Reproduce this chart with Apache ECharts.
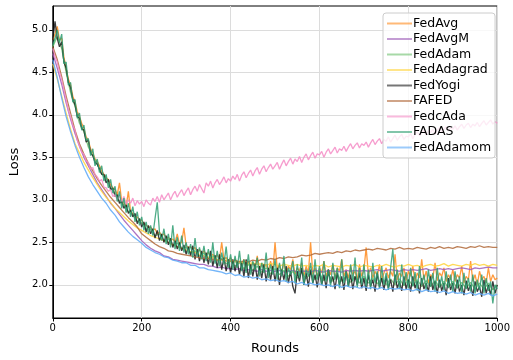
<!DOCTYPE html>
<html>
<head>
<meta charset="utf-8">
<script src="https://cdn.jsdelivr.net/npm/echarts@6/dist/echarts.min.js"></script>
<style>
  html, body { margin: 0; padding: 0; background: #fff; }
  #container { width: 513px; height: 360px; }
</style>
</head>
<body>
<div id="container"></div>
<script>
// loss values; noisy runs every 5 rounds, smooth runs every 10
var rounds5 = [];
for (var i = 0; i <= 200; i++) rounds5.push(i * 5);
var rounds10 = [];
for (var i = 0; i <= 100; i++) rounds10.push(i * 10);

var xTicks = [0, 200, 400, 600, 800, 1000];
var yTicks = [2.0, 2.5, 3.0, 3.5, 4.0, 4.5, 5.0];

var names = ['FedAvg', 'FedAvgM', 'FedAdam', 'FedAdagrad', 'FedYogi', 'FAFED', 'FedcAda', 'FADAS', 'FedAdamom'];

// step 5
var fedAvg = [4.88, 4.95, 5.04, 4.88, 4.9, 4.68, 4.55, 4.42, 4.35, 4.22, 4.15, 4.04, 3.98, 3.9, 3.84, 3.74, 3.7, 3.6, 3.55, 3.48,
    3.45, 3.4, 3.34, 3.3, 3.26, 3.24, 3.18, 3.14, 3.12, 3.06, 3.2, 2.98, 2.96, 2.92, 3.1, 2.86, 2.84, 2.8, 2.8, 2.76,
    2.76, 2.72, 2.7, 2.68, 2.68, 2.64, 2.66, 2.6, 2.62, 2.58, 2.6, 2.55, 2.56, 2.52, 2.54, 2.5, 2.6, 2.48, 2.5, 2.67,
    2.46, 2.44, 2.45, 2.42, 2.44, 2.38, 2.42, 2.36, 2.4, 2.35, 2.38, 2.33, 2.36, 2.32, 2.35, 2.3, 2.5, 2.3, 2.32, 2.28,
    2.32, 2.26, 2.3, 2.25, 2.28, 2.24, 2.3, 2.2, 2.27, 2.22, 2.26, 2.2, 2.34, 2.18, 2.25, 2.2, 2.24, 2.17, 2.28, 2.16,
    2.5, 2.18, 2.24, 2.15, 2.26, 2.14, 2.22, 2.18, 2.3, 2.12, 2.2, 2.16, 2.26, 2.1, 2.22, 2.14, 2.5, 2.12, 2.2, 2.1,
    2.2, 2.14, 2.28, 2.1, 2.18, 2.12, 2.24, 2.08, 2.2, 2.16, 2.3, 2.1, 2.18, 2.08, 2.22, 2.12, 2.16, 2.06, 2.24, 2.1,
    2.18, 2.44, 2.12, 2.2, 2.08, 2.16, 2.1, 2.24, 2.06, 2.14, 2.2, 2.08, 2.16, 2.1, 2.36, 2.06, 2.14, 2.1, 2.2, 2.05,
    2.16, 2.1, 2.22, 2.04, 2.14, 2.08, 2.3, 2.06, 2.16, 2.02, 2.12, 2.08, 2.26, 2.05, 2.14, 2.1, 2.2, 2.04, 2.12, 2.06,
    2.18, 2.04, 2.12, 2.08, 2.22, 2.02, 2.1, 2.06, 2.28, 2.04, 2.12, 2.0, 2.16, 2.06, 2.1, 2.02, 2.2, 2.04, 2.12, 2.06,
    2.08];

// step 10
var fedAvgM = [4.72, 4.55, 4.36, 4.14, 3.95, 3.78, 3.63, 3.5, 3.4, 3.3,
    3.2, 3.12, 3.04, 2.96, 2.9, 2.83, 2.76, 2.7, 2.64, 2.58,
    2.52, 2.47, 2.43, 2.4, 2.38, 2.34, 2.33, 2.3, 2.29, 2.28,
    2.27, 2.26, 2.25, 2.24, 2.24, 2.22, 2.22, 2.2, 2.21, 2.19,
    2.19, 2.18, 2.19, 2.17, 2.18, 2.17, 2.16, 2.18, 2.16, 2.17,
    2.16, 2.17, 2.15, 2.16, 2.17, 2.15, 2.16, 2.16, 2.15, 2.17,
    2.16, 2.15, 2.17, 2.16, 2.16, 2.15, 2.17, 2.16, 2.17, 2.16,
    2.17, 2.16, 2.17, 2.18, 2.16, 2.17, 2.18, 2.17, 2.16, 2.18,
    2.17, 2.18, 2.17, 2.18, 2.19, 2.17, 2.18, 2.19, 2.18, 2.19,
    2.18, 2.19, 2.2, 2.19, 2.18, 2.2, 2.19, 2.2, 2.21, 2.2,
    2.2];

// step 10
var fedAdam = [4.8, 4.92, 4.78, 4.5, 4.26, 4.1, 3.9, 3.8, 3.62, 3.52,
    3.42, 3.3, 3.25, 3.14, 3.08, 2.98, 2.94, 2.86, 2.83, 2.75,
    2.73, 2.66, 2.65, 2.58, 2.6, 2.52, 2.54, 2.47, 2.49, 2.43,
    2.44, 2.38, 2.4, 2.34, 2.37, 2.31, 2.34, 2.28, 2.31, 2.25,
    2.28, 2.22, 2.26, 2.19, 2.24, 2.17, 2.22, 2.15, 2.2, 2.13,
    2.19, 2.12, 2.17, 2.1, 2.16, 2.08, 2.15, 2.07, 2.14, 2.06,
    2.13, 2.05, 2.12, 2.04, 2.12, 2.04, 2.1, 2.03, 2.1, 2.02,
    2.1, 2.02, 2.08, 2.01, 2.08, 2.0, 2.07, 2.0, 2.07, 1.99,
    2.06, 1.99, 2.06, 1.98, 2.05, 1.98, 2.05, 1.97, 2.04, 1.97,
    2.04, 1.96, 2.03, 1.96, 2.03, 1.95, 2.02, 1.95, 2.02, 1.94,
    2.0];

// step 10
var fedAdagrad = [4.6, 4.42, 4.22, 4.02, 3.83, 3.66, 3.55, 3.44, 3.35, 3.26,
    3.18, 3.1, 3.03, 2.97, 2.9, 2.85, 2.8, 2.75, 2.71, 2.67,
    2.64, 2.61, 2.58, 2.56, 2.54, 2.52, 2.5, 2.47, 2.45, 2.43,
    2.41, 2.39, 2.38, 2.36, 2.34, 2.33, 2.32, 2.3, 2.29, 2.29,
    2.28, 2.27, 2.27, 2.26, 2.25, 2.26, 2.24, 2.25, 2.23, 2.25,
    2.24, 2.22, 2.24, 2.23, 2.22, 2.24, 2.22, 2.23, 2.21, 2.23,
    2.22, 2.24, 2.21, 2.23, 2.22, 2.21, 2.23, 2.22, 2.24, 2.21,
    2.23, 2.22, 2.21, 2.23, 2.22, 2.24, 2.22, 2.21, 2.23, 2.22,
    2.24, 2.22, 2.23, 2.21, 2.23, 2.24, 2.22, 2.23, 2.25, 2.22,
    2.24, 2.23, 2.22, 2.24, 2.23, 2.25, 2.23, 2.24, 2.22, 2.24,
    2.23];

// step 5
var fedYogi = [4.88, 5.1, 4.9, 4.8, 4.86, 4.62, 4.55, 4.38, 4.32, 4.18, 4.12, 3.98, 3.96, 3.84, 3.82, 3.68, 3.7, 3.55, 3.52, 3.44,
    3.42, 3.36, 3.3, 3.3, 3.2, 3.24, 3.12, 3.14, 3.04, 3.06, 2.96, 2.98, 2.9, 2.94, 2.84, 2.88, 2.8, 2.84, 2.72, 2.78,
    2.68, 2.74, 2.62, 2.7, 2.6, 2.66, 2.55, 2.64, 2.52, 2.6, 2.5, 2.58, 2.47, 2.55, 2.44, 2.52, 2.42, 2.5, 2.4, 2.47,
    2.36, 2.45, 2.34, 2.46, 2.3, 2.42, 2.28, 2.4, 2.26, 2.38, 2.24, 2.4, 2.22, 2.35, 2.2, 2.36, 2.18, 2.32, 2.16, 2.3,
    2.14, 2.3, 2.16, 2.28, 2.12, 2.26, 2.1, 2.3, 2.08, 2.24, 2.1, 2.25, 2.06, 2.22, 2.08, 2.24, 2.04, 2.2, 2.06, 2.22,
    2.04, 2.2, 2.0, 2.18, 2.06, 2.22, 2.02, 2.16, 1.98, 1.9, 2.16, 2.04, 2.2, 2.0, 2.14, 1.98, 2.18, 2.02, 2.12, 1.97,
    2.16, 2.0, 2.12, 1.96, 2.18, 2.02, 2.1, 1.95, 2.14, 2.0, 2.1, 1.94, 2.16, 1.98, 2.12, 1.95, 2.1, 2.0, 2.14, 1.96,
    2.08, 1.93, 2.12, 1.98, 2.06, 1.92, 2.14, 1.97, 2.08, 1.94, 2.1, 1.96, 2.06, 1.92, 2.12, 1.96, 2.04, 1.93, 2.1, 1.95,
    2.06, 1.92, 2.1, 1.96, 2.04, 1.9, 2.08, 1.95, 2.02, 1.92, 2.1, 1.94, 2.04, 1.9, 2.06, 1.93, 2.02, 1.88, 2.08, 1.94,
    2.02, 1.9, 2.06, 1.92, 2.0, 1.88, 2.05, 1.93, 2.0, 1.87, 2.04, 1.92, 1.98, 1.86, 2.06, 1.9, 2.0, 1.88, 2.04, 1.9,
    2.0];

// step 10
var fafed = [4.8, 4.65, 4.45, 4.22, 4.02, 3.82, 3.66, 3.54, 3.43, 3.34,
    3.25, 3.17, 3.1, 3.03, 2.97, 2.91, 2.85, 2.79, 2.74, 2.68,
    2.6, 2.56, 2.52, 2.48, 2.45, 2.43, 2.4, 2.39, 2.37, 2.36,
    2.35, 2.34, 2.33, 2.32, 2.31, 2.31, 2.3, 2.29, 2.3, 2.28,
    2.28, 2.29, 2.27, 2.28, 2.27, 2.29, 2.28, 2.3, 2.29, 2.31,
    2.3, 2.32, 2.31, 2.33, 2.32, 2.33, 2.35, 2.34, 2.35, 2.37,
    2.36, 2.37, 2.38, 2.37, 2.39, 2.38, 2.4, 2.39, 2.41, 2.4,
    2.41, 2.42, 2.41, 2.43, 2.42, 2.41, 2.43, 2.42, 2.44, 2.42,
    2.43, 2.42, 2.44, 2.43, 2.42, 2.44, 2.43, 2.45, 2.43, 2.44,
    2.43, 2.45, 2.44, 2.43, 2.45, 2.44, 2.46, 2.44, 2.45, 2.44,
    2.44];

// step 5
var fedcAda = [4.78, 4.68, 4.62, 4.5, 4.42, 4.3, 4.18, 4.05, 3.98, 3.88, 3.82, 3.7, 3.64, 3.56, 3.54, 3.46, 3.44, 3.36, 3.38, 3.3,
    3.27, 3.22, 3.24, 3.15, 3.14, 3.1, 3.12, 3.04, 3.06, 3.0, 3.05, 2.98, 3.04, 2.95, 3.0, 2.96, 3.02, 2.93, 2.99, 2.95,
    2.98, 2.92, 3.0, 2.96, 2.94, 3.02, 2.98, 3.04, 2.97, 3.06, 3.0, 3.04, 3.08, 3.0, 3.06, 3.1, 3.03, 3.08, 3.12, 3.05,
    3.1, 3.14, 3.06, 3.12, 3.16, 3.1, 3.18, 3.13, 3.08, 3.2, 3.16, 3.22, 3.14, 3.2, 3.24, 3.18, 3.22, 3.27, 3.2, 3.25,
    3.22, 3.28, 3.24, 3.3, 3.22, 3.29, 3.33, 3.26, 3.31, 3.35, 3.28, 3.34, 3.38, 3.3, 3.36, 3.4, 3.33, 3.38, 3.42, 3.36,
    3.4, 3.44, 3.36, 3.42, 3.47, 3.4, 3.45, 3.49, 3.42, 3.48, 3.45, 3.51, 3.44, 3.5, 3.54, 3.47, 3.52, 3.56, 3.49, 3.54,
    3.53, 3.57, 3.5, 3.56, 3.6, 3.54, 3.58, 3.62, 3.55, 3.6, 3.58, 3.63, 3.57, 3.62, 3.66, 3.6, 3.64, 3.67, 3.61, 3.66,
    3.64, 3.68, 3.62, 3.67, 3.71, 3.65, 3.69, 3.72, 3.66, 3.71, 3.69, 3.74, 3.68, 3.72, 3.76, 3.7, 3.74, 3.77, 3.71, 3.75,
    3.74, 3.78, 3.72, 3.77, 3.8, 3.75, 3.79, 3.82, 3.76, 3.81, 3.79, 3.83, 3.77, 3.82, 3.85, 3.8, 3.83, 3.86, 3.81, 3.85,
    3.83, 3.87, 3.82, 3.86, 3.89, 3.84, 3.88, 3.9, 3.85, 3.89, 3.87, 3.91, 3.86, 3.9, 3.93, 3.88, 3.91, 3.94, 3.89, 3.92,
    3.9];

// step 5
var fadas = [4.82, 4.9, 5.0, 4.85, 4.95, 4.6, 4.62, 4.35, 4.38, 4.15, 4.18, 3.96, 4.02, 3.82, 3.88, 3.7, 3.72, 3.52, 3.6, 3.4,
    3.48, 3.32, 3.4, 3.22, 3.3, 3.14, 3.24, 3.08, 3.16, 2.98, 3.1, 2.9, 3.02, 2.85, 2.96, 2.8, 2.92, 2.74, 2.86, 2.7,
    2.8, 2.64, 2.74, 2.6, 2.7, 2.58, 2.78, 2.97, 2.62, 2.52, 2.66, 2.48, 2.6, 2.44, 2.7, 2.42, 2.56, 2.4, 2.58, 2.38,
    2.5, 2.36, 2.48, 2.32, 2.55, 2.33, 2.44, 2.3, 2.46, 2.28, 2.42, 2.26, 2.5, 2.25, 2.4, 2.22, 2.38, 2.24, 2.45, 2.2,
    2.36, 2.18, 2.34, 2.2, 2.4, 2.16, 2.3, 2.14, 2.36, 2.12, 2.28, 2.18, 2.32, 2.1, 2.26, 2.14, 2.38, 2.08, 2.24, 2.12,
    2.3, 2.06, 2.26, 2.1, 2.34, 2.04, 2.2, 2.12, 2.28, 2.02, 2.24, 2.08, 2.32, 2.0, 2.18, 2.1, 2.26, 2.02, 2.3, 2.06,
    2.22, 2.0, 2.28, 2.04, 2.18, 1.98, 2.26, 2.06, 2.2, 1.96, 2.3, 2.02, 2.16, 1.98, 2.24, 2.04, 2.32, 1.97, 2.2, 2.0,
    2.24, 1.98, 2.18, 1.95, 2.26, 2.02, 2.16, 1.96, 2.22, 2.0, 2.14, 1.94, 2.2, 2.42, 2.02, 2.18, 1.95, 2.24, 2.0, 2.15,
    1.96, 2.2, 1.98, 2.15, 1.93, 2.22, 2.0, 2.12, 1.94, 2.18, 1.98, 2.14, 1.92, 2.2, 1.97, 2.1, 1.94, 2.16, 1.96, 2.12,
    1.92, 2.16, 1.96, 2.1, 1.9, 2.14, 1.95, 2.08, 1.92, 2.12, 1.9, 2.06, 1.94, 2.12, 1.9, 2.08, 1.93, 2.04, 1.78, 2.0,
    1.95];

// step 10
var fedAdamom = [4.65, 4.44, 4.2, 3.98, 3.8, 3.64, 3.5, 3.38, 3.27, 3.18,
    3.1, 3.02, 2.96, 2.88, 2.82, 2.74, 2.68, 2.62, 2.57, 2.53,
    2.49, 2.44, 2.41, 2.38, 2.36, 2.33, 2.32, 2.29, 2.28, 2.26,
    2.26, 2.23, 2.23, 2.2, 2.2, 2.18, 2.17, 2.16, 2.15, 2.13,
    2.14, 2.11, 2.12, 2.09, 2.1, 2.08, 2.09, 2.06, 2.07, 2.05,
    2.06, 2.04, 2.05, 2.03, 2.04, 2.01, 2.03, 2.0, 2.02, 2.0,
    2.01, 1.99, 2.0, 1.98, 2.0, 1.97, 1.99, 1.97, 1.98, 1.96,
    1.98, 1.96, 1.97, 1.95, 1.97, 1.94, 1.96, 1.95, 1.96, 1.94,
    1.95, 1.93, 1.95, 1.92, 1.94, 1.92, 1.93, 1.91, 1.93, 1.9,
    1.92, 1.9, 1.91, 1.89, 1.91, 1.88, 1.9, 1.88, 1.9, 1.87,
    1.89];

var values = [fedAvg, fedAvgM, fedAdam, fedAdagrad, fedYogi, fafed, fedcAda, fadas, fedAdamom];
var colors = ['#ff8a1c', '#9d5cb8', '#6cc06c', '#ffd43a', '#1a1a1a', '#b06838', '#f58cc6', '#2f9e72', '#5aa8f8'];

var dom = document.getElementById("container");
var myChart = echarts.init(dom, null, { renderer: 'canvas' });

var font = 'DejaVu Sans';

var series = names.map(function (n, k) {
    var vals = values[k];
    var xs = vals.length > 101 ? rounds5 : rounds10;
    return {
        name: n,
        type: 'line',
        symbol: 'none',
        data: xs.map(function (r, i) { return [r, vals[i]]; }),
        lineStyle: { width: 1.3, color: colors[k], opacity: 0.85 },
        itemStyle: { color: colors[k] },
        emphasis: { disabled: true }
    };
});

option = {
    animation: false,
    textStyle: { fontFamily: font },
    grid: {
        left: 50,
        right: 12,
        top: 6,
        bottom: 35,
        show: true,
        borderColor: '#000',
        borderWidth: 1,
        backgroundColor: 'transparent'
    },
    legend: {
        orient: 'vertical',
        left: 383,
        top: 13,
        padding: [4, 4, 4, 4],
        itemGap: 2.5,
        itemWidth: 25,
        itemHeight: 2,
        icon: 'rect',
        itemStyle: { opacity: 0.6 },
        backgroundColor: 'rgba(255,255,255,0.8)',
        borderColor: '#cccccc',
        borderWidth: 1,
        borderRadius: 3,
        textStyle: { fontFamily: font, fontSize: 12.5, lineHeight: 13, color: '#000', padding: [0, 0, 0, -4] },
        data: names
    },
    xAxis: {
        type: 'value',
        min: 0,
        max: 1000,
        interval: 200,
        name: 'Rounds',
        nameLocation: 'middle',
        nameGap: 24,
        nameTextStyle: { fontFamily: font, fontSize: 13, color: '#000' },
        axisLine: { lineStyle: { color: '#000', width: 1 } },
        axisTick: { inside: false, length: 3.5, lineStyle: { color: '#000' } },
        axisLabel: {
            fontFamily: font, fontSize: 10, color: '#000', margin: 5,
            formatter: function (v) { return String(v); }
        },
        splitLine: { show: true, lineStyle: { color: '#dcdcdc', width: 1 } }
    },
    yAxis: {
        type: 'value',
        min: 1.61,
        max: 5.28,
        name: 'Loss',
        nameLocation: 'middle',
        nameGap: 31,
        nameRotate: 90,
        nameTextStyle: { fontFamily: font, fontSize: 13, color: '#000' },
        axisLine: { show: true, lineStyle: { color: '#000', width: 1 } },
        axisTick: { show: true, inside: false, length: 3.5, customValues: yTicks, lineStyle: { color: '#000' } },
        axisLabel: {
            fontFamily: font, fontSize: 10, color: '#000', margin: 5,
            customValues: yTicks,
            formatter: function (v) { return v.toFixed(1); }
        },
        splitLine: { show: true, lineStyle: { color: '#dcdcdc', width: 1 } }
    },
    series: series
};

myChart.setOption(option, true);
</script>
</body>
</html>
